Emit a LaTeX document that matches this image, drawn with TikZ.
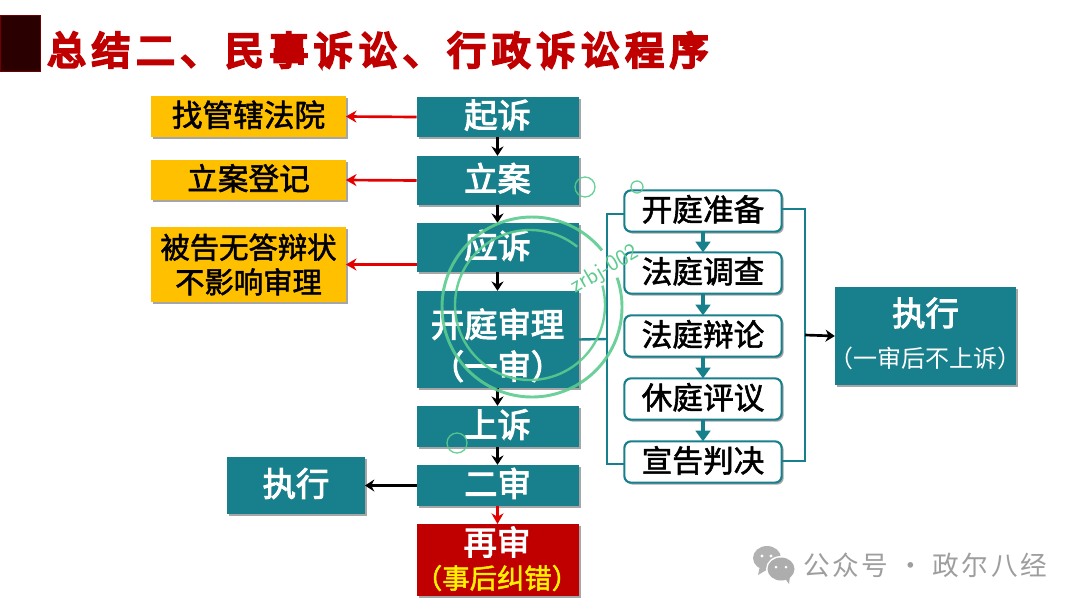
\documentclass[tikz,border=0pt]{standalone}
\usepackage{fontspec}
\usetikzlibrary{arrows.meta,shadows,calc}
\newfontfamily\cjk{Noto Sans CJK SC}
\newfontfamily\cjkbold{Noto Sans CJK SC}[FakeBold=3]
\newfontfamily\cjkmed{Noto Sans CJK SC}[FakeBold=1.8]
\newfontfamily\cjktitle{Noto Sans CJK SC}[FakeBold=7,LetterSpace=15]
\newfontfamily\cjkwm{Noto Sans CJK SC}[LetterSpace=10]
\newfontfamily\cjkthin{Noto Sans CJK SC}
\definecolor{teal1}{HTML}{17808C}
\definecolor{gold1}{HTML}{FFC000}
\definecolor{red1}{HTML}{C00000}
\definecolor{stamp}{HTML}{5CCB8E}
\tikzset{
  x=0.75pt,y=-0.75pt,
  base/.style={inner sep=0pt,outer sep=0pt,align=center,anchor=center,
    drop shadow={shadow xshift=1.5pt,shadow yshift=-1.5pt,opacity=.35,fill=black}},
  tealbox/.style={base,fill=teal1,text=white,font=\cjkbold\fontsize{25}{30}\selectfont},
  tealone/.style={tealbox,text height=20pt,text depth=4pt},
  goldbox/.style={base,fill=gold1,text=black,font=\cjkmed\fontsize{23}{27}\selectfont},
  goldone/.style={goldbox,text height=19pt,text depth=4pt},
  roundbox/.style={base,fill=white,draw=teal1,line width=1.6pt,rounded corners=5pt,text=black,
    font=\cjkmed\fontsize{23}{27}\selectfont,text height=19pt,text depth=4pt},
  redarrow/.style={draw=red!90!black,line width=2pt,-{Stealth[length=8pt,width=9pt]}},
  blackarrow/.style={draw=black,line width=2pt,-{Stealth[length=7pt,width=9pt]}},
  tealarrow/.style={draw=teal1,line width=2.6pt,-{Triangle[length=8pt,width=11pt]}},
  bracket/.style={draw=teal1,line width=1.8pt},
  stampline/.style={draw=stamp,line width=1.8pt,opacity=.9},
}
\begin{document}
\begin{tikzpicture}
\useasboundingbox (0,0) rectangle (1080,608);
\fill[white] (0,0) rectangle (1080,608);
% title
\fill[fill={rgb,255:red,42;green,0;blue,0},draw=red1!60!black] (0,15) rectangle (40,71);
\node[inner sep=0pt,anchor=west,text=red1,font=\cjktitle\fontsize{29}{34}\selectfont] (title) at (47,50) {总结二、民事诉讼、行政诉讼程序};
% centre column
\node[tealone,minimum width=121.5pt,minimum height=30pt] (qisu) at (497.5,117) {起诉};
\node[tealone,minimum width=121.5pt,minimum height=37pt] (lian) at (497.5,180.5) {立案};
\node[tealone,minimum width=121.5pt,minimum height=37pt] (yingsu) at (497.5,247.5) {应诉};
\node[tealbox,minimum width=121.5pt,minimum height=73pt] (kaiting) at (497.5,339.5) {\rule{0pt}{30pt}开庭审理\\[1.5pt]（一审）};
\node[tealone,minimum width=121.5pt,minimum height=31pt] (shangsu) at (497.5,426.5) {上诉};
\node[tealone,minimum width=121.5pt,minimum height=31pt] (ershen) at (497.5,485.5) {二审};
\node[base,fill=red1,minimum width=121.5pt,minimum height=54pt] (zaishen) at (497.5,560) {};
\node[inner sep=0pt,text=white,font=\cjkbold\fontsize{25}{30}\selectfont] (zs1) at (497,542) {再审};
\node[inner sep=0pt,text=yellow,font=\cjkmed\fontsize{20.5}{24}\selectfont] (zs2) at (497,578) {（事后纠错）};
% left
\node[goldone,minimum width=146pt,minimum height=31pt] (guanxia) at (248.5,116.5) {找管辖法院};
\node[goldone,minimum width=146pt,minimum height=30pt] (dengji) at (248.5,180) {立案登记};
\node[goldbox,minimum width=146pt,minimum height=56pt,font=\cjkmed\fontsize{22}{26}\selectfont] (beigao) at (248.5,264.5) {被告无答辩状\\不影响审理};
\node[tealone,minimum width=103.5pt,minimum height=43pt] (zhixingl) at (296,485.5) {执行};
% right list
\node[roundbox,minimum width=118pt,minimum height=31pt] (t1) at (703,211) {开庭准备};
\node[roundbox,minimum width=118pt,minimum height=31pt] (t2) at (703,273) {法庭调查};
\node[roundbox,minimum width=118pt,minimum height=31pt] (t3) at (703,336) {法庭辩论};
\node[roundbox,minimum width=118pt,minimum height=31pt] (t4) at (703,399) {休庭评议};
\node[roundbox,minimum width=118pt,minimum height=31pt] (t5) at (703,462) {宣告判决};
% execution box
\node[base,fill=teal1,minimum width=136pt,minimum height=73.5pt] (zhixingr) at (925.5,336) {};
\node[inner sep=0pt,text=white,font=\cjkbold\fontsize{25}{30}\selectfont] (zr1) at (925.5,313) {执行};
\node[inner sep=0pt,text=white,font=\cjkthin\fontsize{18}{20}\selectfont] (zr2) at (925.5,358) {（一审后不上诉）};
% connectors
\draw[blackarrow] (qisu) -- (lian);
\draw[blackarrow] (lian) -- (yingsu);
\draw[blackarrow] (yingsu) -- (kaiting);
\draw[blackarrow] (kaiting) -- (shangsu);
\draw[blackarrow] (shangsu) -- (ershen);
\draw[redarrow] (ershen) -- (zaishen);
\draw[redarrow] (qisu.west) -- (guanxia.east);
\draw[redarrow] (lian.west) -- (dengji.east);
\draw[redarrow] (yingsu.west |- beigao.east) -- (beigao.east);
\draw[blackarrow] (ershen.west) -- (zhixingl.east);
\foreach \a/\b in {t1/t2,t2/t3,t3/t4,t4/t5}{\draw[tealarrow] (\a.south) -- (\b.north);}
\coordinate (la) at ($(t1.west)+(0,3)$);
\coordinate (lb) at ($(t5.west)+(0,2)$);
\coordinate (ra) at ($(t1.east)+(0,-2)$);
\coordinate (rb) at ($(t5.east)+(0,-1)$);
\coordinate (lx) at (607,339);
\coordinate (rx) at (805,335);
\draw[bracket] (la) -| (lx) |- (lb);
\draw[bracket] (ra) -| (rx) |- (rb);
\draw[bracket] (kaiting.east) -- (lx);
\draw[blackarrow] (rx) -- (zhixingr.west);
% stamp
\draw[stampline,line width=2.2pt] plot[domain=39:379,samples=120,smooth] ({532+90*cos(\x)},{307-90*sin(\x)});
\draw[stampline] plot[domain=51:375,samples=120,smooth] ({530+75*cos(\x)},{305-75*sin(\x)});
\draw[stampline,line width=1pt] (585,187) circle (10);
\draw[stampline,line width=1pt] (637,187) circle (6);
\draw[stampline,line width=1pt] (457,443) circle (10);
\node[inner sep=0pt,rotate=30,text=stamp,font=\sffamily\fontsize{17.5}{20}\selectfont] (stampid) at (605,270) {zrbj-002};
% watermark
\begin{scope}[shift={(776,563)}]
\fill[black!30] (-9,-5) ellipse (14 and 12);
\fill[black!30] (-16,3) -- (-18,12) -- (-8,6) -- cycle;
\fill[white] (5,6) ellipse (15 and 13);
\fill[black!32] (5,6) ellipse (13.5 and 11.5);
\fill[black!32] (8,14) -- (13,21) -- (14,13) -- cycle;
\fill[white] (-14,-7) circle (1.7) (-5,-7) circle (1.7) (0,4) circle (1.5) (10,4) circle (1.5);
\end{scope}
\node[inner sep=0pt,anchor=west,text=black!38,font=\cjkwm\fontsize{20}{24}\selectfont] (wm) at (803,565) {公众号 · 政尔八经};
\end{tikzpicture}
\end{document}
